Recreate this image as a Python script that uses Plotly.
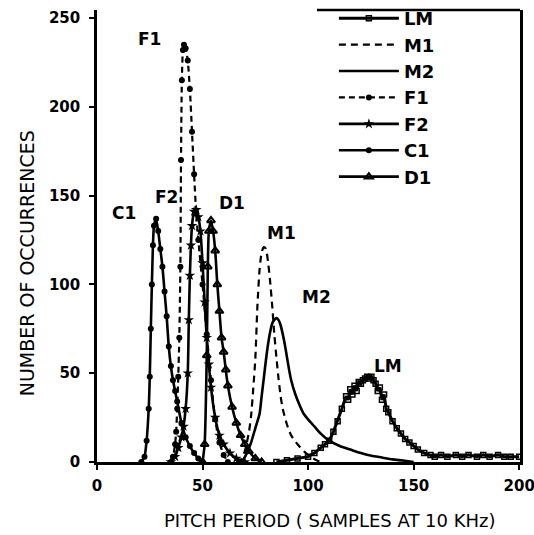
import plotly.graph_objects as go

# ---- data ----
c1_x = [21, 22.5, 23.5, 24.5, 25, 25.5, 26, 26.5, 27, 28, 29, 30, 31, 32, 33, 34, 35, 36, 37, 38, 40, 42, 44, 46, 48, 50]
c1_y = [0, 3, 12, 30, 48, 75, 100, 122, 133, 137, 130, 120, 110, 96, 82, 65, 54, 46, 40, 34, 22, 14, 9, 5, 2, 0]

f1_x = [35, 36, 37, 37.5, 38, 38.5, 39, 39.5, 39.8, 40.2, 40.7, 41.2, 42, 43, 44, 45, 46, 47, 48, 50, 52, 54, 56, 58, 60, 62]
f1_y = [0, 3, 10, 17, 30, 48, 70, 110, 170, 215, 232, 235, 233, 226, 210, 186, 162, 140, 125, 100, 72, 46, 24, 11, 4, 0]

f2_x = [35, 37, 38.5, 40, 41, 42, 43, 43.5, 44, 44.5, 45, 46, 47, 48, 49, 50, 51, 52, 53, 54, 56, 58, 60, 63, 66, 70]
f2_y = [0, 3, 8, 14, 20, 30, 50, 80, 105, 122, 133, 141, 142, 138, 130, 112, 90, 70, 55, 42, 25, 15, 10, 5, 2, 0]

d1_x = [50, 51, 52, 52.5, 53, 54, 55, 56, 57, 58, 59, 60, 61, 62, 64, 66, 68, 70, 72, 75, 78]
d1_y = [0, 10, 60, 110, 130, 136, 130, 119, 100, 85, 70, 62, 52, 43, 31, 22, 15, 10, 6, 2, 0]

m1_x = [66, 68, 70, 72, 73, 74, 75, 76, 77, 78, 79, 80, 81, 82, 83, 84, 85, 86, 87, 88, 90, 92, 95, 98, 101, 104, 106]
m1_y = [0, 1, 6, 17, 26, 41, 58, 88, 108, 118, 121, 120, 113, 102, 88, 72, 59, 47, 37, 30, 21, 15, 10, 6, 3, 1, 0]

m2_x = [66, 69, 71, 73, 75, 77, 78, 79, 80, 81, 82, 83, 84, 85, 86, 87, 88, 89, 90, 91, 92, 94, 96, 98, 100, 103, 106, 110, 115, 120, 125, 130, 135, 140, 145, 150]
m2_y = [0, 1, 5, 11, 19, 27, 37, 47, 57, 66, 73, 78, 80, 81, 80, 77, 72, 66, 59, 52, 46, 38, 32, 27, 24, 20, 16, 12, 9, 7, 5, 3.5, 2.5, 1.5, 0.8, 0]

lm_x = [85, 90, 95, 100, 103, 106, 108, 110, 112, 114, 116, 118, 119, 120, 121, 122, 123, 124, 125, 126, 127, 128, 129, 130, 131, 132, 133, 134, 135, 136, 137, 138, 140, 142, 144, 146, 148, 150, 152, 155, 158, 160, 163, 166, 170, 173, 176, 180, 183, 186, 190, 193, 196, 200]
lm_y = [0, 1, 2, 3, 5, 8, 10, 12, 17, 23, 30, 37, 35, 41, 38, 43, 40, 45, 44, 46, 47, 48, 47, 48, 46, 44, 40, 42, 35, 38, 30, 28, 23, 19, 16, 13, 11, 9, 7, 5, 4, 3, 4, 3, 4, 3, 4, 3, 4, 3, 4, 3, 3, 3]

x_ticks = [0, 50, 100, 150, 200]
y_ticks = [0, 50, 100, 150, 200, 250]

curve_labels = ["F1", "C1", "F2", "D1", "M1", "M2", "LM"]
label_x = [25, 13, 33, 64, 87.5, 104, 138]
label_y = [238, 140, 149, 146, 129, 93, 54]

FONT = "DejaVu Sans"
K = "black"
SM = 0.6

fig = go.Figure()
fig.add_trace(go.Scatter(x=lm_x, y=lm_y, name="LM", mode="lines+markers",
                         line=dict(color=K, width=3),
                         marker=dict(symbol="square-open", size=5, color=K, line=dict(width=1.5))))
fig.add_trace(go.Scatter(x=m1_x, y=m1_y, name="M1", mode="lines",
                         line=dict(color=K, width=2.2, dash="7px,5px", shape="spline", smoothing=SM)))
fig.add_trace(go.Scatter(x=m2_x, y=m2_y, name="M2", mode="lines",
                         line=dict(color=K, width=2.6, shape="spline", smoothing=SM)))
fig.add_trace(go.Scatter(x=f1_x, y=f1_y, name="F1", mode="lines+markers",
                         line=dict(color=K, width=2.2, dash="6px,4px", shape="spline", smoothing=SM),
                         marker=dict(symbol="circle", size=6, color=K)))
fig.add_trace(go.Scatter(x=f2_x, y=f2_y, name="F2", mode="lines+markers",
                         line=dict(color=K, width=2.6, shape="spline", smoothing=SM),
                         marker=dict(symbol="star", size=8, color=K)))
fig.add_trace(go.Scatter(x=c1_x, y=c1_y, name="C1", mode="lines+markers",
                         line=dict(color=K, width=2.6, shape="spline", smoothing=SM),
                         marker=dict(symbol="circle", size=6, color=K)))
fig.add_trace(go.Scatter(x=d1_x, y=d1_y, name="D1", mode="lines+markers",
                         line=dict(color=K, width=2.6, shape="spline", smoothing=SM),
                         marker=dict(symbol="triangle-up-open", size=7, color=K, line=dict(width=2))))

for t, lx, ly in zip(curve_labels, label_x, label_y):
    fig.add_annotation(x=lx, y=ly, text=t, showarrow=False,
                       font=dict(family=FONT, size=17, color=K, weight="bold"))

fig.add_annotation(xref="paper", yref="paper", x=0.55, y=-0.13, xanchor="center", yanchor="middle",
                   text="PITCH PERIOD ( SAMPLES AT 10 KHz)", showarrow=False,
                   font=dict(family=FONT, size=18, color=K))
fig.add_annotation(xref="paper", yref="paper", x=-0.165, y=0.44, xanchor="center", yanchor="middle",
                   text="NUMBER OF OCCURRENCES", textangle=-90, showarrow=False,
                   font=dict(family=FONT, size=19, color=K))

fig.add_shape(type="line", xref="paper", yref="paper", x0=0.52, x1=1, y0=1, y1=1,
              line=dict(color=K, width=2.5))

fig.update_layout(
    width=534, height=535,
    margin=dict(l=97, r=14, t=10, b=73, autoexpand=False),
    paper_bgcolor="white", plot_bgcolor="white",
    showlegend=True,
    legend=dict(x=0.56, y=1.022, xanchor="left", yanchor="top",
                bgcolor="rgba(0,0,0,0)", borderwidth=0, itemwidth=60,
                font=dict(family=FONT, size=18, color=K, weight="bold"),
                tracegroupgap=0),
    font=dict(family=FONT, color=K),
)
fig.update_xaxes(range=[0, 200.4], tickvals=x_ticks, showgrid=False, zeroline=False, automargin=False,
                 showline=True, linecolor=K, linewidth=2.5, ticks="outside", ticklen=5,
                 tickcolor=K, tickwidth=2, ticklabelstandoff=3, ticklabeloverflow="allow",
                 tickfont=dict(family=FONT, size=15, color=K, weight="bold"))
fig.update_yaxes(range=[0, 254.5], tickvals=y_ticks, showgrid=False, zeroline=False, automargin=False,
                 showline=True, mirror=True, linecolor=K, linewidth=2.5, ticks="outside", ticklen=5,
                 tickcolor=K, tickwidth=2, ticklabelstandoff=6,
                 tickfont=dict(family=FONT, size=15, color=K, weight="bold"))

fig.write_html("out.html", config={"displayModeBar": False},
               post_script="document.body.style.margin='0';document.body.style.padding='0';")
